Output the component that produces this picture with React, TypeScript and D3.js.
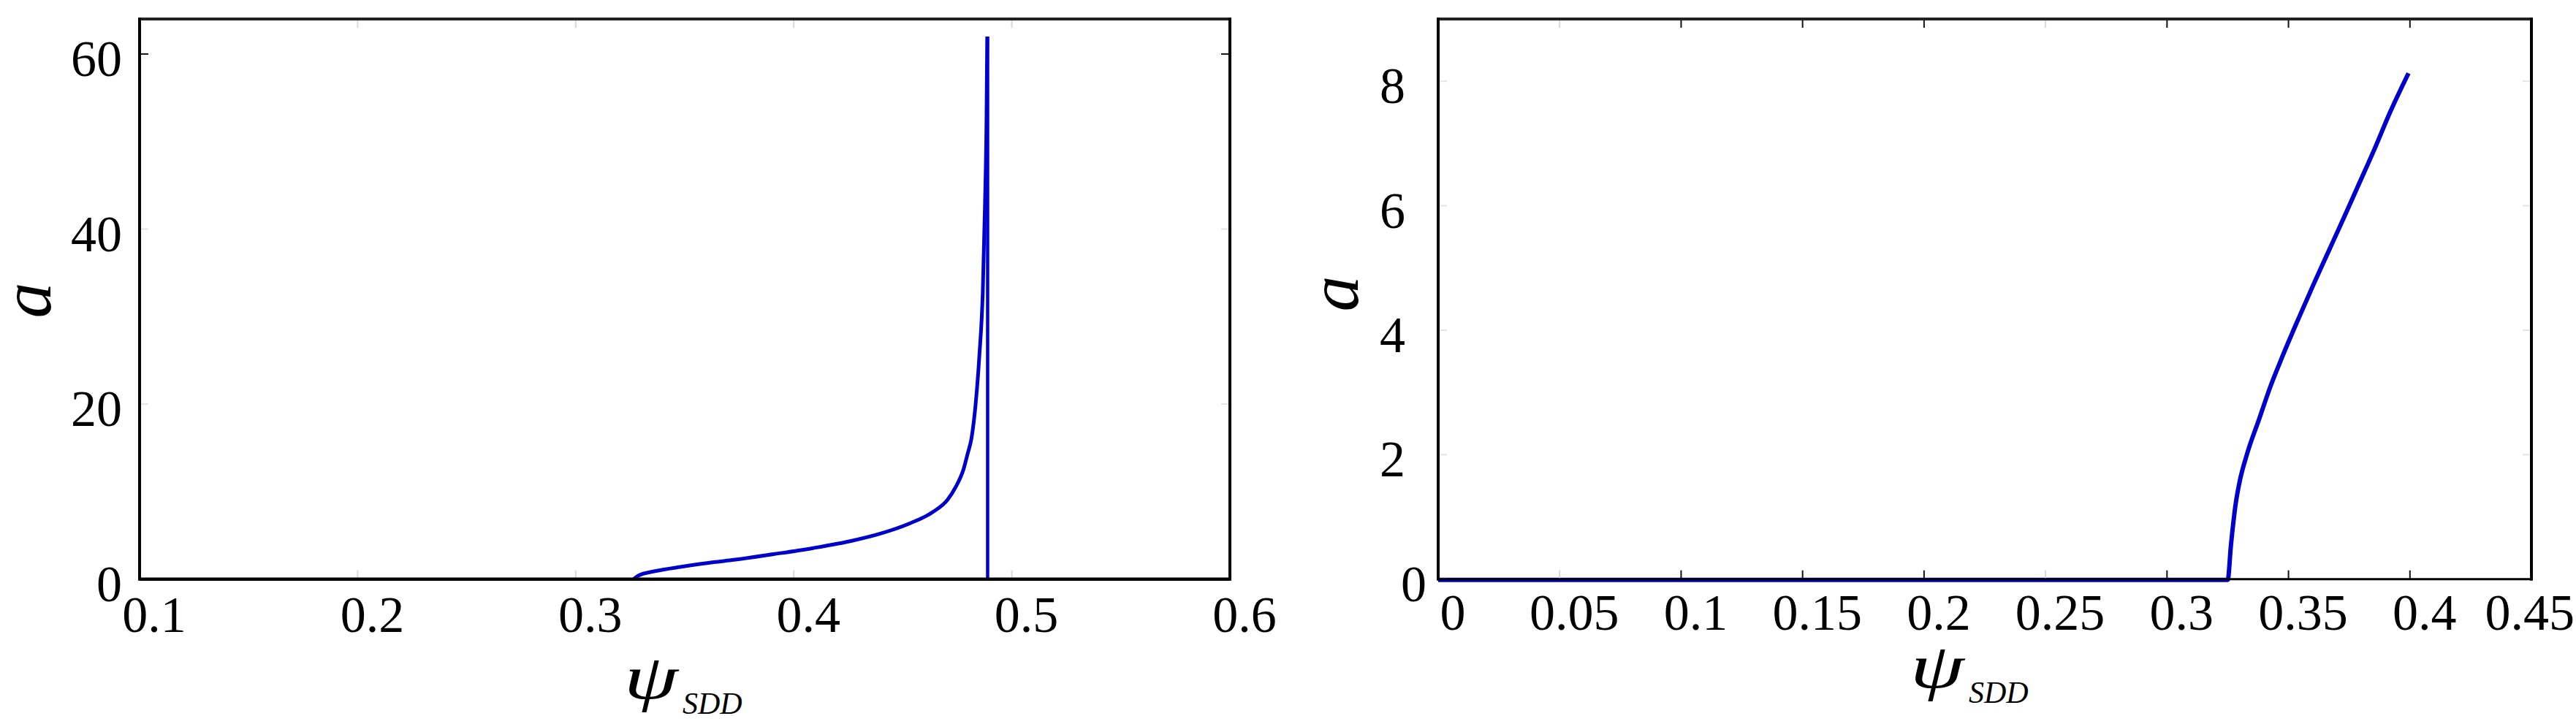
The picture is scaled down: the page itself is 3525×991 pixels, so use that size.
import React from "react";
import * as d3 from "d3";

// ---------- data ----------
// Left panel: a vs psi_SDD (rising branch)
const leftPsi = [0.3265, 0.329, 0.3359, 0.3496, 0.3632, 0.3725, 0.3907, 0.4089, 0.427, 0.4397, 0.4525, 0.4633, 0.4706, 0.4742, 0.4779, 0.4797, 0.4815, 0.4834, 0.4851, 0.4867, 0.4877, 0.4884, 0.4887];
const leftA = [0, 0.43, 0.89, 1.45, 1.93, 2.2, 2.85, 3.55, 4.4, 5.2, 6.3, 7.6, 9.1, 10.5, 12.6, 14.3, 16.1, 20, 25.5, 33, 43, 53, 62];
// vertical drop after the peak
const leftDropPsi = [0.4889, 0.4889];
const leftDropA = [62, 0];

// Right panel: a vs psi_SDD
const rightPsi = [0, 0.325, 0.3263, 0.3283, 0.3298, 0.333, 0.3378, 0.3426, 0.3474, 0.3537, 0.36, 0.3664, 0.3728, 0.3791, 0.3855, 0.3919, 0.3994];
const rightA = [0, 0, 0.55, 1.23, 1.56, 2.03, 2.57, 3.11, 3.58, 4.16, 4.72, 5.27, 5.82, 6.37, 6.93, 7.52, 8.14];

const leftXTicks = [0.1, 0.2, 0.3, 0.4, 0.5, 0.6];
const leftXTickLabels = ["0.1", "0.2", "0.3", "0.4", "0.5", "0.6"];
const leftYTicks = [0, 20, 40, 60];
const leftYTickLabels = ["0", "20", "40", "60"];

const rightXTicks = [0, 0.05, 0.1, 0.15, 0.2, 0.25, 0.3, 0.35, 0.4, 0.45];
const rightXTickLabels = ["0", "0.05", "0.1", "0.15", "0.2", "0.25", "0.3", "0.35", "0.4", "0.45"];
const rightYTicks = [0, 2, 4, 6, 8];
const rightYTickLabels = ["0", "2", "4", "6", "8"];

const xTitleMain = "ψ";
const xTitleSub = "SDD";
const yTitle = "a";

const W = 3525;
const H = 991;
const BLUE = "#0000cd";
const FONT = "'Liberation Serif', 'Times New Roman', serif";

type Pt = [number, number];
const zip = (xs: number[], ys: number[]): Pt[] => xs.map((x, i) => [x, ys[i]]);

function labelWidth(s: string, size: number) {
  let w = 0;
  for (const c of s) w += c === "." ? 0.25 * size : 0.5 * size;
  return w;
}

interface PanelProps {
  left: number;
  right: number;
  top: number;
  bottom: number;
  xDomain: [number, number];
  yDomain: [number, number];
  xTicks: number[];
  xTickLabels: string[];
  yTicks: number[];
  yTickLabels: string[];
  yLabelRight: number;
  xLabelBaseline: number;
  faintX: (v: number) => boolean;
  faintY: (v: number) => boolean;
  zeroLabelShift: number;
  yTitleX: number;
  yTitleY: number;
  psiX: number;
  psiBase: number;
  subBase: number;
  bottomWidth: number;
  children: (x: d3.ScaleLinear<number, number>, y: d3.ScaleLinear<number, number>) => React.ReactNode;
}

function Panel(p: PanelProps) {
  const x = d3.scaleLinear().domain(p.xDomain).range([p.left, p.right]);
  const y = d3.scaleLinear().domain(p.yDomain).range([p.bottom, p.top]);
  const tickLen = 12;
  const fs = 70;
  return (
    <g>
      {p.children(x, y)}
      {/* ticks */}
      {p.xTicks.map((t, i) => {
        const col = p.faintX(t) ? "#d8d8d8" : "#111";
        return (
          <g key={"xt" + i}>
            <line x1={x(t)} x2={x(t)} y1={p.bottom} y2={p.bottom - tickLen} stroke={col} strokeWidth={2} />
            <line x1={x(t)} x2={x(t)} y1={p.top} y2={p.top + tickLen} stroke={col} strokeWidth={2} />
          </g>
        );
      })}
      {p.yTicks.map((t, i) => {
        const col = p.faintY(t) ? "#e4e4e4" : "#111";
        return (
          <g key={"yt" + i}>
            <line x1={p.left} x2={p.left + tickLen} y1={y(t)} y2={y(t)} stroke={col} strokeWidth={2} />
            <line x1={p.right} x2={p.right - tickLen} y1={y(t)} y2={y(t)} stroke={col} strokeWidth={2} />
          </g>
        );
      })}
      {/* frame */}
      <line x1={p.left} x2={p.right} y1={p.top} y2={p.top} stroke="#222" strokeWidth={4} />
      <line x1={p.left} x2={p.right} y1={p.bottom} y2={p.bottom} stroke="#000" strokeWidth={p.bottomWidth} />
      <line x1={p.left} x2={p.left} y1={p.top - 2} y2={p.bottom + 2} stroke="#000" strokeWidth={4} />
      <line x1={p.right} x2={p.right} y1={p.top - 2} y2={p.bottom + 2} stroke="#000" strokeWidth={4} />
      {/* x tick labels */}
      {p.xTicks.map((t, i) => {
        const lab = p.xTickLabels[i];
        const w = labelWidth(lab, fs);
        let cx = x(t) + 20;
        if (cx + w / 2 > W - 2) cx = W - 2 - w / 2;
        return (
          <text key={"xl" + i} x={cx} y={p.xLabelBaseline} textAnchor="middle" fontFamily={FONT} fontSize={fs} fill="#000">
            {lab}
          </text>
        );
      })}
      {/* y tick labels */}
      {p.yTicks.map((t, i) => (
        <text
          key={"yl" + i}
          x={p.yLabelRight + (t === 0 ? p.zeroLabelShift : 0)}
          y={y(t) + 30}
          textAnchor="end"
          fontFamily={FONT}
          fontSize={fs}
          fill="#000"
        >
          {p.yTickLabels[i]}
        </text>
      ))}
      {/* y title */}
      <text
        transform={`translate(${p.yTitleX},${p.yTitleY}) rotate(-90)`}
        textAnchor="middle"
        fontFamily={FONT}
        fontStyle="italic"
        fontSize={98}
        fill="#000"
      >
        {yTitle}
      </text>
      {/* x title */}
      <text
        transform={`translate(${p.psiX},${p.psiBase}) scale(1.38,1)`}
        fontFamily={FONT}
        fontStyle="italic"
        fontSize={86}
        fill="#000"
      >
        {xTitleMain}
      </text>
      <text x={p.psiX + 80} y={p.subBase} fontFamily={FONT} fontStyle="italic" fontSize={42} fill="#000">
        {xTitleSub}
      </text>
    </g>
  );
}

export default function App() {
  const mono = d3.curveMonotoneX;
  return (
    <svg width={W} height={H} style={{ position: "absolute", left: 0, top: 0, background: "#fff" }}>
      <rect x={0} y={0} width={W} height={H} fill="#fff" />
      <Panel
        left={191}
        right={1683}
        top={26}
        bottom={792.7}
        xDomain={[0.1, 0.6]}
        yDomain={[0, 64]}
        xTicks={leftXTicks}
        xTickLabels={leftXTickLabels}
        yTicks={leftYTicks}
        yTickLabels={leftYTickLabels}
        yLabelRight={167}
        xLabelBaseline={865}
        faintX={() => true}
        faintY={(v) => v !== 60}
        zeroLabelShift={0}
        yTitleX={69}
        yTitleY={411}
        psiX={854}
        psiBase={956}
        subBase={977}
        bottomWidth={4.5}
      >
        {(x, y) => {
          const line = d3.line<Pt>().x((d) => x(d[0])).y((d) => y(d[1]));
          return (
            <g fill="none" stroke={BLUE} strokeLinejoin="round">
              <path d={line.curve(mono)(zip(leftPsi, leftA)) || ""} strokeWidth={5} />
              <path d={d3.line<Pt>().x((d) => x(d[0])).y((d) => y(d[1]))(zip(leftDropPsi, leftDropA)) || ""} strokeWidth={4.5} />
            </g>
          );
        }}
      </Panel>
      <Panel
        left={1968}
        right={3464}
        top={26}
        bottom={792.7}
        xDomain={[0, 0.45]}
        yDomain={[0, 9]}
        xTicks={rightXTicks}
        xTickLabels={rightXTickLabels}
        yTicks={rightYTicks}
        yTickLabels={rightYTickLabels}
        yLabelRight={1923}
        xLabelBaseline={862}
        faintX={(v) => Math.abs(v - 0.05) < 1e-9 || Math.abs(v - 0.25) < 1e-9}
        faintY={() => true}
        zeroLabelShift={29}
        yTitleX={1858}
        yTitleY={402}
        psiX={2614}
        psiBase={941}
        subBase={962}
        bottomWidth={3}
      >
        {(x, y) => {
          const line = d3.line<Pt>().x((d) => x(d[0])).y((d) => y(d[1])).curve(mono);
          return (
            <path
              d={line(zip(rightPsi, rightA)) || ""}
              fill="none"
              stroke={BLUE}
              strokeWidth={6}
              strokeLinejoin="round"
              transform="translate(0,1)"
            />
          );
        }}
      </Panel>
    </svg>
  );
}
